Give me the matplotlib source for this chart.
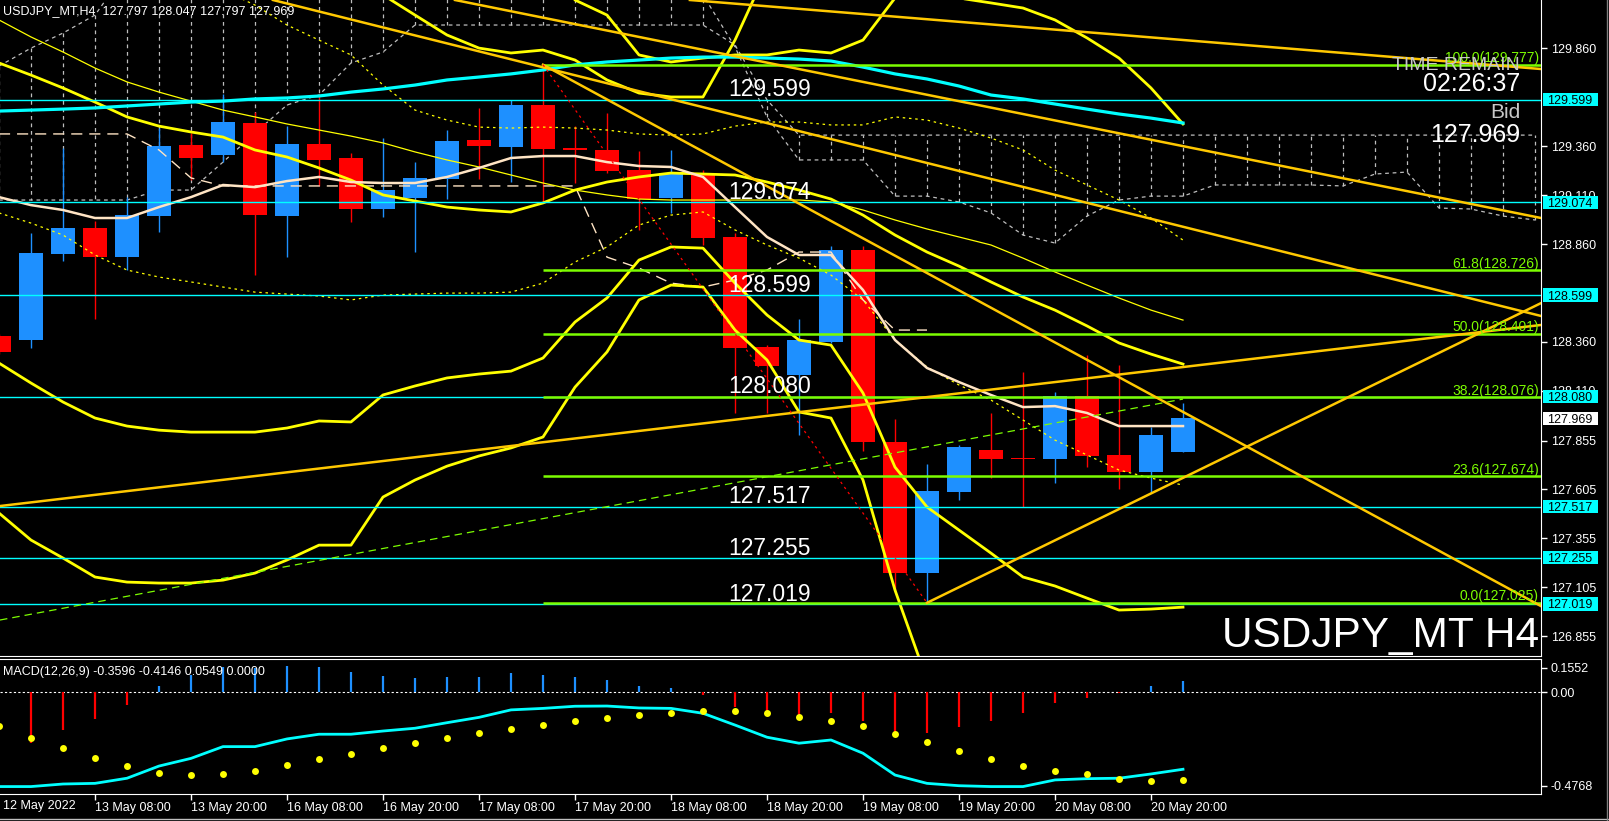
import numpy as np
import matplotlib.pyplot as plt
from matplotlib import font_manager as fm
from matplotlib.patches import Rectangle
from matplotlib.lines import Line2D
from matplotlib.transforms import blended_transform_factory as blend

names = {f.name for f in fm.fontManager.ttflist}
SANS = 'Liberation Sans' if 'Liberation Sans' in names else 'DejaVu Sans'
HAS_NARROW = 'Liberation Sans Narrow' in names
NARROW = 'Liberation Sans Narrow' if HAS_NARROW else SANS
plt.rcParams['font.family'] = [SANS, 'DejaVu Sans']
nan = np.nan

# ---- USDJPY H4 candles, left to right (last bar = current)
opens = [128.389, 128.370, 128.808, 128.942, 128.794, 129.003, 129.366, 129.315, 129.479, 129.003,
         129.372, 129.300, 129.039, 129.097, 129.192, 129.392, 129.358, 129.571, 129.353, 129.341,
         129.238, 129.097, 129.213, 128.896, 128.333, 128.190, 128.360, 128.829, 127.849, 127.179,
         127.593, 127.806, 127.765, 127.762, 128.082, 127.781, 127.696, 127.797]
highs = [128.400, 128.916, 129.351, 128.979, 129.100, 129.452, 129.426, 129.626, 129.537, 129.464,
         129.626, 129.324, 129.401, 129.278, 129.443, 129.557, 129.597, 129.777, 129.464, 129.529,
         129.336, 129.341, 129.238, 128.916, 128.343, 128.476, 128.850, 128.850, 127.963, 127.735,
         127.832, 127.995, 128.207, 128.104, 128.292, 128.241, 127.922, 128.047]
lows = [128.300, 128.330, 128.774, 128.476, 128.727, 128.923, 129.187, 129.281, 128.701, 128.793,
        129.158, 128.974, 128.999, 128.819, 129.090, 129.192, 129.179, 129.068, 129.172, 129.222,
        128.932, 129.017, 128.855, 127.996, 127.996, 127.883, 128.355, 127.803, 127.081, 127.025,
        127.551, 127.663, 127.516, 127.636, 127.721, 127.605, 127.585, 127.797]
closes = [128.308, 128.814, 128.942, 128.794, 129.008, 129.361, 129.301, 129.484, 129.008, 129.372,
          129.290, 129.039, 129.136, 129.198, 129.387, 129.363, 129.571, 129.346, 129.342, 129.233,
          129.089, 129.222, 128.892, 128.330, 128.238, 128.369, 128.829, 127.849, 127.179, 127.597,
          127.822, 127.762, 127.760, 128.082, 127.777, 127.696, 127.883, 127.969]

# ---- indicators on price
ma_cyan = [129.540, 129.545, 129.550, 129.556, 129.566, 129.576, 129.586, 129.591, 129.602, 129.607,
           129.617, 129.637, 129.653, 129.673, 129.699, 129.714, 129.730, 129.750, 129.776, 129.791,
           129.801, 129.811, 129.816, 129.816, 129.811, 129.806, 129.796, 129.765, 129.730, 129.704,
           129.668, 129.622, 129.602, 129.576, 129.550, 129.525, 129.504, 129.479]
ma_white = [129.100, 129.059, 129.034, 128.993, 128.993, 129.049, 129.100, 129.162, 129.151, 129.182,
            129.203, 129.177, 129.172, 129.172, 129.203, 129.249, 129.300, 129.310, 129.310, 129.279,
            129.259, 129.254, 129.203, 129.049, 128.896, 128.804, 128.804, 128.625, 128.369, 128.226,
            128.154, 128.088, 128.026, 128.031, 127.996, 127.929, 127.929, 127.929]
bb_up = [129.786, 129.724, 129.658, 129.586, 129.510, 129.463, 129.433, 129.407, 129.341, 129.305,
         129.249, 129.187, 129.111, 129.080, 129.049, 129.034, 129.024, 129.070, 129.136, 129.177,
         129.203, 129.223, 129.218, 129.213, 129.177, 129.136, 129.090, 129.008, 128.906, 128.819,
         128.747, 128.666, 128.589, 128.522, 128.441, 128.354, 128.297, 128.246]
bb_low = [128.251, 128.149, 128.052, 127.970, 127.929, 127.908, 127.898, 127.898, 127.898, 127.919,
          127.955, 127.950, 128.088, 128.134, 128.175, 128.195, 128.210, 128.277, 128.461, 128.584,
          128.778, 128.845, 128.839, 128.660, 128.497, 128.369, 128.343, 128.098, 127.719, 127.515,
          127.397, 127.279, 127.157, 127.111, 127.049, 126.988, 126.993, 127.003]
bb_low3 = [127.484, 127.346, 127.254, 127.157, 127.131, 127.126, 127.126, 127.141, 127.177, 127.244,
           127.320, 127.320, 127.566, 127.653, 127.724, 127.776, 127.817, 127.873, 128.128, 128.308,
           128.574, 128.650, 128.640, 128.420, 128.267, 128.001, 127.970, 127.653, 127.090, 126.630,
           nan, nan, nan, nan, nan, nan, nan, nan]
bb_up3a = [nan] * 11 + [130.313, 130.134, 130.031, 129.929, 129.862, 129.837, 129.852, 129.801,
                        129.699, 129.632, 129.612, 129.612, 129.903, 130.261] + [nan] * 13
bb_up3b = [nan] * 17 + [130.415, 130.108, 130.031, 129.827, 129.791, 129.811, 129.827, 129.827,
                        129.852, 129.837, 129.903, 130.118, 130.313, 130.118, 130.093, 130.067,
                        130.006, 129.914, 129.811, 129.658, 129.474]
thin_yellow = [130.006, 129.919, 129.842, 129.760, 129.689, 129.637, 129.591, 129.545, 129.510, 129.474,
               129.443, 129.412, 129.377, 129.331, 129.290, 129.254, 129.213, 129.172, 129.136, 129.111,
               129.090, 129.085, 129.085, 129.085, 129.085, 129.085, 129.075, 129.034, 128.983, 128.937,
               128.896, 128.855, 128.788, 128.717, 128.650, 128.584, 128.522, 128.471]
dot_up = [nan] * 7 + [130.159, 130.082, 129.980, 129.903, 129.827, 129.673, 129.545, 129.494, 129.458,
                      129.453, 129.458, 129.453, 129.443, 129.423, 129.417, 129.423, 129.463, 129.484,
                      129.484, 129.469, 129.469, 129.510, 129.494, 129.453, 129.402, 129.341, 129.238,
                      129.162, 129.085, 128.993, 128.880]
dot_mid = [129.019, 128.967, 128.906, 128.804, 128.727, 128.691, 128.666, 128.640, 128.614, 128.604,
           128.594, 128.574, 128.599, 128.604, 128.609, 128.609, 128.614, 128.660, 128.768, 128.845,
           128.957, 129.008, 129.024, 128.932, 128.855, 128.788, 128.701, 128.574, 128.369, 128.231,
           128.139, 128.062, 127.960, 127.857, 127.781, 127.704, 127.663, 127.627]
kijun = [129.423] * 5 + [129.341, 129.198] + [129.157] * 12 + [128.793, 128.737, 128.660, 128.640,
         128.676, 128.727, 128.819, 128.819, 128.574, 128.420, 128.420] + [nan] * 8

# cloud spans (shifted forward, 11 bars past the last candle)
span_a = [129.770, 129.862, 129.939, 130.031, 130.261] + [130.415] * 17 + [
    130.134, 129.868, 129.510, 129.290, 129.290, 129.290, 129.105, 129.105, 129.075, 129.019,
    128.906, 128.865, 129.003, 129.085, 129.105, 129.105, 129.162, 129.162, 129.162, 129.162,
    129.157, 129.218, 129.228, 129.044, 129.039, 129.003, 128.983]
span_b = [129.085] * 5 + [129.136, 129.136, 129.279, 129.428, 129.571, 129.622, 129.786, 129.842] + \
         [129.980] * 10 + [129.878, 129.597] + [129.417] * 24

# ---- objects
cyan_levels = [129.599, 129.074, 128.599, 128.080, 127.517, 127.255, 127.019]
fib_levels = [129.777, 128.726, 128.401, 128.076, 127.674, 127.025]
fib_names = ['100.0', '61.8', '50.0', '38.2', '23.6', '0.0']
fib_start = 17
trend_lines = [((21.59, 130.108), (48.19, 129.755)),
               ((14.25, 130.108), (48.19, 128.993)),
               ((8.56, 130.108), (48.19, 128.492)),
               ((17.0, 129.777), (48.19, 127.008)),
               ((29.0, 127.025), (48.19, 128.558)),
               ((0.03, 127.520), (48.19, 128.446))]
green_dash = ((0.03, 126.937), (37.0, 128.067))
red_dot = ((17.0, 129.777), (29.0, 127.025))
bid = 127.969

price_ticks = [129.860, 129.360, 129.110, 128.860, 128.360, 128.110, 127.855, 127.605, 127.355,
               127.105, 126.855]

# ---- MACD(12,26,9)
macd = [-0.442, -0.442, -0.430, -0.427, -0.403, -0.346, -0.310, -0.255, -0.255, -0.219,
        -0.197, -0.197, -0.182, -0.169, -0.143, -0.118, -0.083, -0.076, -0.066, -0.065,
        -0.074, -0.076, -0.099, -0.154, -0.211, -0.239, -0.224, -0.286, -0.388, -0.427,
        -0.438, -0.442, -0.442, -0.411, -0.405, -0.403, -0.383, -0.361]
signal = [-0.158, -0.213, -0.260, -0.307, -0.344, -0.377, -0.386, -0.381, -0.367, -0.339,
          -0.311, -0.288, -0.260, -0.236, -0.213, -0.190, -0.171, -0.152, -0.133, -0.119,
          -0.105, -0.096, -0.087, -0.087, -0.096, -0.115, -0.133, -0.157, -0.194, -0.232,
          -0.274, -0.311, -0.344, -0.367, -0.381, -0.405, -0.414, -0.411]
hist = [nan, -0.236, -0.177, -0.127, -0.060, 0.029, 0.080, 0.120, 0.112, 0.122,
        0.118, 0.095, 0.076, 0.066, 0.071, 0.071, 0.091, 0.080, 0.071, 0.057,
        0.029, 0.018, -0.013, -0.068, -0.111, -0.121, -0.096, -0.133, -0.193, -0.193,
        -0.164, -0.133, -0.099, -0.049, -0.026, -0.002, 0.031, 0.052]

time_ticks = [3, 6, 9, 12, 15, 18, 21, 24, 27, 30, 33, 36]
time_labels = ['13 May 08:00', '13 May 20:00', '16 May 08:00', '16 May 20:00', '17 May 08:00',
               '17 May 20:00', '18 May 08:00', '18 May 20:00', '19 May 08:00', '19 May 20:00',
               '20 May 08:00', '20 May 20:00']

BLUE, RED, CYAN, LIME, GOLD, YEL = '#1E90FF', '#FF0000', '#00FFFF', '#7CFC00', '#FFC800', '#FFFF00'

W, H = 1609, 821
fig = plt.figure(figsize=(W / 100, H / 100), dpi=100, facecolor='black')
ax = fig.add_axes([0, 1 - 656 / H, 1541 / W, 656 / H], facecolor='black')
mx = fig.add_axes([0, 1 - 794 / H, 1541 / W, 135 / H], facecolor='black')
xlim = (1 / 32, 1542 / 32)
ax.set_xlim(xlim)
mx.set_xlim(xlim)
ax.set_ylim(126.753, 130.108)
mx.set_ylim(-0.4768, 0.1552)
tr = blend(ax.transAxes, ax.transData)

# cloud
xc = np.arange(len(span_a))
ax.plot(xc, span_a, color='#BEBEBE', lw=0.9, ls=(0, (3, 3)), zorder=1)
ax.plot(xc, span_b, color='#BEBEBE', lw=0.9, ls=(0, (3, 3)), zorder=1)
ax.vlines(xc, span_a, span_b, colors='#BEBEBE', lw=0.9, linestyles=(0, (3, 3)), zorder=1)

# candles
x = np.arange(len(opens))
o, c = np.array(opens), np.array(closes)
col = np.where(c >= o, BLUE, RED)
ax.vlines(x, lows, highs, colors=col, lw=1.0, zorder=2)
ax.bar(x, np.maximum(np.abs(c - o), 0.006), bottom=np.minimum(o, c), width=0.78,
       color=col, linewidth=0, zorder=2.1)

# indicator lines
ax.plot(x, kijun, color='#FFE4C4', lw=1.0, ls=(0, (8, 5)), zorder=3)
ax.plot(x, dot_up, color=YEL, lw=0.9, ls=(0, (2, 3)), zorder=3)
ax.plot(x, dot_mid, color=YEL, lw=0.9, ls=(0, (2, 3)), zorder=3)
ax.plot(x, thin_yellow, color=YEL, lw=0.9, zorder=3)
for band in (bb_up, bb_low, bb_low3, bb_up3a, bb_up3b):
    ax.plot(x, band, color=YEL, lw=2.0, zorder=3)
ax.plot(x, ma_cyan, color=CYAN, lw=2.3, zorder=3)
ax.plot(x, ma_white, color='#FFE4C4', lw=1.8, zorder=3)

# horizontal levels
for v in cyan_levels:
    ax.axhline(v, color=CYAN, lw=1.0, zorder=4)
    ax.text(728 / 1541, v + 0.016, f'{v:.3f}', transform=tr, color='white', fontsize=16.5,
            ha='left', va='baseline', zorder=6)
ax.hlines(fib_levels, fib_start, xlim[1], colors=LIME, lw=1.8, zorder=4)
for v, n in zip(fib_levels, fib_names):
    ax.text(1539 / 1541, v + 0.012, f'{n}({v:.3f})', transform=tr, color=LIME, fontsize=10,
            ha='right', va='baseline', zorder=6)

# trend lines
for (x1, y1), (x2, y2) in trend_lines:
    ax.plot([x1, x2], [y1, y2], color=GOLD, lw=1.8, zorder=4)
ax.plot(*zip(*green_dash), color=LIME, lw=0.9, ls=(0, (6, 4)), zorder=4)
ax.plot(*zip(*red_dot), color=RED, lw=0.9, ls=(0, (2, 3)), zorder=4)

# price axis
ax.yaxis.tick_right()
ax.set_yticks(price_ticks)
ax.set_yticklabels([f'{v:.3f}' for v in price_ticks])
ax.tick_params(axis='y', colors='white', length=4, width=1, pad=3, labelsize=9)
ax.tick_params(axis='x', bottom=False, labelbottom=False)
for v, fc in [(lv, CYAN) for lv in cyan_levels] + [(bid, 'white')]:
    ax.add_patch(Rectangle((1 + 2 / 1541, v - 0.034), 55 / 1541, 0.068, transform=tr, fc=fc,
                           ec='none', clip_on=False, zorder=7))
    ax.text(1 + 6 / 1541, v, f'{v:.3f}', transform=tr, color='black', fontsize=9,
            ha='left', va='center_baseline', clip_on=False, zorder=8)
for s in ('top', 'left'):
    ax.spines[s].set_visible(False)
for s in ('right', 'bottom'):
    ax.spines[s].set_color('white')

# texts on chart
ax.text(3 / 1541, 1 - 14 / 656, 'USDJPY_MT,H4  127.797 128.047 127.797 127.969', transform=ax.transAxes,
        color='white', fontsize=9, va='baseline', zorder=6)
rx = 1520 / 1541
ax.text(rx, 1 - 70 / 656, 'TIME REMAIN', transform=ax.transAxes, color='#C8C8C8',
        fontsize=17 if HAS_NARROW else 14, family=[NARROW, 'DejaVu Sans'],
        ha='right', va='baseline', zorder=6)
ax.text(rx, 1 - 91 / 656, '02:26:37', transform=ax.transAxes, color='white', fontsize=18,
        ha='right', va='baseline', zorder=6)
ax.text(rx, 1 - 118 / 656, 'Bid', transform=ax.transAxes, color='#C8C8C8', fontsize=15,
        ha='right', va='baseline', zorder=6)
ax.text(rx, 1 - 142 / 656, f'{bid:.3f}', transform=ax.transAxes, color='white', fontsize=18,
        ha='right', va='baseline', zorder=6)
ax.text(1539 / 1541, 9 / 656, 'USDJPY_MT H4', transform=ax.transAxes, color='white',
        fontsize=37 if HAS_NARROW else 30.5, family=[NARROW, 'DejaVu Sans'],
        ha='right', va='baseline', zorder=6)

# MACD panel
mx.axhline(0, color='white', lw=0.8, ls=(0, (2, 2)), zorder=1)
h = np.array(hist)
mx.vlines(x, 0, h, colors=np.where(h >= 0, BLUE, RED), lw=1.6, zorder=2)
mx.plot(x, macd, color=CYAN, lw=2.0, zorder=3)
mx.plot(x, signal, 'o', color=YEL, ms=5, mec='none', zorder=4)
mx.text(3 / 1541, 1 - 16 / 135, 'MACD(12,26,9) -0.3596 -0.4146 0.0549 0.0000', transform=mx.transAxes,
        color='white', fontsize=9, va='baseline', zorder=6)
mx.yaxis.tick_right()
mx.set_yticks([0.1145, 0.0, -0.4393])
mx.set_yticklabels(['0.1552', '0.00', '-0.4768'])
mx.tick_params(axis='y', colors='white', length=4, width=1, pad=3, labelsize=9)
mx.set_xticks(time_ticks)
mx.set_xticklabels(time_labels, ha='left')
mx.tick_params(axis='x', colors='white', length=4, width=1, pad=2, labelsize=9)
mx.text(0.125, -0.089, '12 May 2022', transform=blend(mx.transData, mx.transAxes), color='white',
        fontsize=9, ha='left', va='center')
mx.spines['left'].set_visible(False)
for s in ('top', 'bottom', 'right'):
    mx.spines[s].set_color('white')

fig.add_artist(Line2D([0, 1], [1 - 819 / H] * 2, color='#C0C0C0', lw=1))
fig.add_artist(Line2D([1607 / W] * 2, [0, 1], color='#808080', lw=1))

fig.savefig('out.png', dpi=100, facecolor='black')
